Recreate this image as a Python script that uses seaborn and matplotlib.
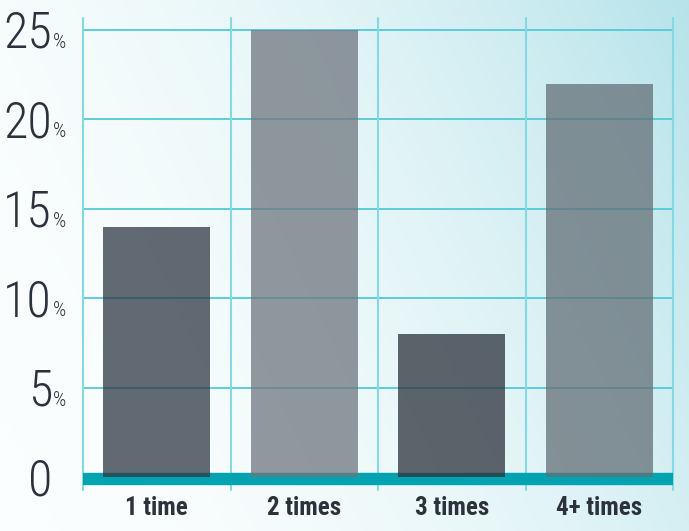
import numpy as np
import pandas as pd
import seaborn as sns
import matplotlib.pyplot as plt
from matplotlib import font_manager
from matplotlib.colors import LinearSegmentedColormap

categories = ['1 time', '2 times', '3 times', '4+ times']
shares = [14, 25, 8, 22]
bar_colors = ['#2f3844', '#6f767f', '#2b313b', '#646f77']
tick_values = [0, 5, 10, 15, 20, 25]
tick_labels = ['0', '5', '10', '15', '20', '25']


def pick_narrow_font():
    fonts = font_manager.fontManager.ttflist
    names = {f.name for f in fonts}
    for name in ['Roboto Condensed', 'Liberation Sans Narrow', 'Open Sans Condensed']:
        if name in names:
            return name, 'normal'
    for f in fonts:
        if f.name == 'DejaVu Sans' and f.stretch in ('condensed', 'semi-condensed', 500):
            return 'DejaVu Sans', 'condensed'
    return 'Liberation Sans', 'normal'


sns.set_theme(style='white')
font_name, font_stretch = pick_narrow_font()
plt.rcParams['font.family'] = [font_name, 'DejaVu Sans']
text_color = '#2b323b'

df = pd.DataFrame({'category': categories, 'share': shares})

fig = plt.figure(figsize=(6.89, 5.31), dpi=100)

# background gradient, white bottom-left to pale cyan top-right
bg = fig.add_axes([0, 0, 1, 1], zorder=0)
xx, yy = np.meshgrid(np.linspace(0, 1, 300), np.linspace(0, 1, 300))
t = np.clip((0.85 * xx + 0.3 * yy) / 1.15, 0, 1) ** 2.0
cmap = LinearSegmentedColormap.from_list('bg', ['#fbfefe', '#b6e3ea'])
bg.imshow(t, cmap=cmap, origin='lower', aspect='auto', extent=[0, 1, 0, 1])
bg.axis('off')

ax = fig.add_axes([83 / 689, 41 / 531, 590 / 689, 472 / 531], zorder=1)
ax.patch.set_alpha(0)

sns.barplot(data=df, x='category', y='share', hue='category', palette=bar_colors,
            legend=False, width=0.725, alpha=0.75, saturation=1, ax=ax, zorder=3,
            edgecolor='none', linewidth=0)

ax.set_xlim(-0.5, 3.5)
ax.set_ylim(-0.7, 25.67)

for v in tick_values[1:]:
    ax.axhline(v, color='#52cad6', lw=1.3, zorder=1)
for b in np.arange(-0.5, 4, 1):
    ax.axvline(b, color='#84d9e3', lw=1.5, zorder=1, clip_on=False)
ax.axhspan(-0.37, 0.25, color='#00a3b0', zorder=2)

for s in ax.spines.values():
    s.set_visible(False)

ax.set_yticks([])
ax.set_xlabel('')
ax.set_ylabel('')
ax.tick_params(axis='x', length=0, pad=4)
ax.set_xticks(range(len(categories)))
ax.set_xticklabels(categories, fontsize=18, fontweight='bold', color=text_color,
                   fontstretch=font_stretch)

for v, lab in zip(tick_values, tick_labels):
    ax.annotate(lab, xy=(52 / 689, v), xycoords=('figure fraction', 'data'),
                xytext=(0, -18), textcoords='offset pixels', ha='right', va='baseline',
                fontsize=36, fontweight='light', color=text_color, fontstretch=font_stretch,
                annotation_clip=False)
    if v > 0:
        ax.annotate('%', xy=(53 / 689, v), xycoords=('figure fraction', 'data'),
                    xytext=(0, -18), textcoords='offset pixels', ha='left', va='baseline',
                    fontsize=15, fontweight='light', color=text_color, fontstretch=font_stretch,
                    annotation_clip=False)

fig.savefig('out.png', dpi=100)
